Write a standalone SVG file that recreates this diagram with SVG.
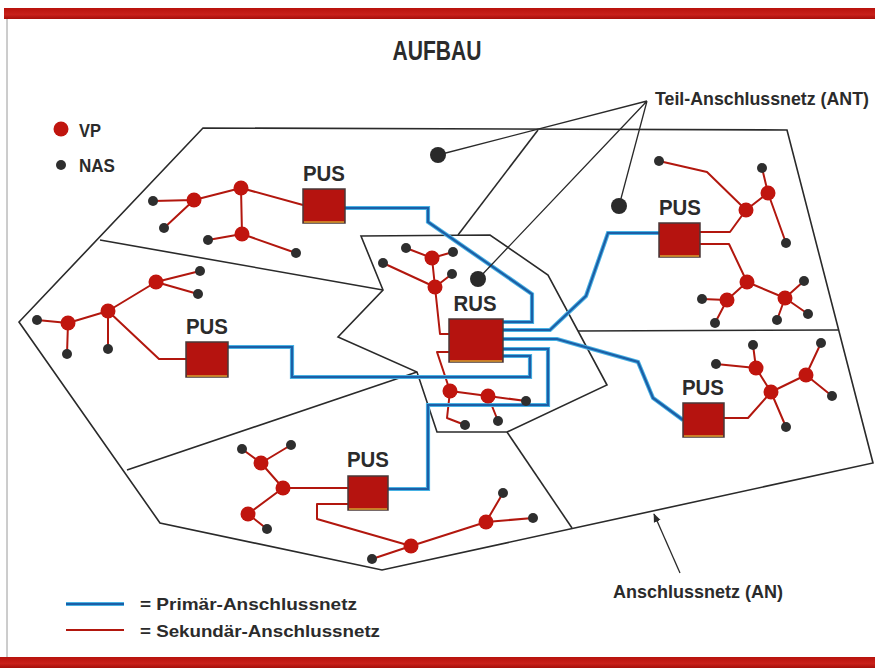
<svg xmlns="http://www.w3.org/2000/svg" width="875" height="668" viewBox="0 0 875 668">
<defs>
<linearGradient id="bar" x1="0" y1="0" x2="0" y2="1">
<stop offset="0" stop-color="#b8120c"/><stop offset="0.6" stop-color="#c8201a"/><stop offset="1" stop-color="#a50f0a"/>
</linearGradient>
<marker id="arr" viewBox="0 0 10 10" refX="9" refY="5" markerWidth="9" markerHeight="9" orient="auto" markerUnits="userSpaceOnUse">
<path d="M0,1 L10,5 L0,9 z" fill="#2a2a2a"/>
</marker>
</defs>
<style>
text{font-family:"Liberation Sans",Arial,sans-serif;font-weight:bold;fill:#2b2b2b}
.bd{fill:none;stroke:#2a2a2a;stroke-width:1.6;stroke-linejoin:miter}
.lead{fill:none;stroke:#2a2a2a;stroke-width:1.3}
.sec{fill:none;stroke:#b2170e;stroke-width:2;stroke-linejoin:round}
.priO{fill:none;stroke:#48b2e4;stroke-width:4.2;stroke-linejoin:miter}
.priI{fill:none;stroke:#1c5ea6;stroke-width:2.2;stroke-linejoin:miter}
.vp{fill:#c0150e}
.nas{fill:#2e2e2e}
.ant{fill:#2a2a2a}
.box{fill:#b5130f;stroke:#4a3838;stroke-width:1.5}
.edge{stroke:#d9a030;stroke-width:1.5}
.lbl{font-size:22px}
</style>
<rect width="875" height="668" fill="#ffffff"/>
<rect x="4" y="8" width="871" height="11" fill="url(#bar)"/>
<rect x="0" y="657" width="875" height="11" fill="url(#bar)"/>
<line x1="7" y1="19" x2="7" y2="657" stroke="#9a9a9a" stroke-width="1"/>
<text x="437" y="60" font-size="28" text-anchor="middle" textLength="89" lengthAdjust="spacingAndGlyphs">AUFBAU</text>

<g id="legend-top">
<circle cx="61" cy="129" r="7.5" class="vp"/>
<text x="79" y="137" font-size="18" textLength="22" lengthAdjust="spacingAndGlyphs">VP</text>
<circle cx="61" cy="165" r="5" class="nas"/>
<text x="79" y="172" font-size="18" textLength="36" lengthAdjust="spacingAndGlyphs">NAS</text>
</g>

<g id="boundaries">
<polygon class="bd" points="203,128 787,130 873,463 382,570 160,523 19,322"/>
<polygon class="bd" points="361,236 490,235 548,275 607,385 507,432 437,432 417,372 338,337 383,290"/>
<line class="bd" x1="100" y1="240" x2="383" y2="290"/>
<line class="bd" x1="127" y1="470" x2="417" y2="372"/>
<line class="bd" x1="538" y1="130" x2="458" y2="235"/>
<line class="bd" x1="578" y1="331" x2="838" y2="330"/>
<line class="bd" x1="507" y1="432" x2="572" y2="528"/>
</g>

<g id="connectors">
<g id="secondary">
<path class="sec" d="M153,201 L194,200 L241,188 L303,205 M164,228 L194,200 M241,188 L242,234 L208,240 M242,234 L296,253"/>
<path class="sec" d="M37,320 L68,323 L108,311 L156,282 L200,271 M156,282 L198,294 M68,323 L67,354 M108,311 L108,349 M108,311 L159,359 L186,359"/>
<path class="sec" d="M242,449 L261,463 L291,445 M261,463 L283,488 L348,488 M283,488 L248,514 L267,529 M348,504 L317,504 L317,519 L411,546 L486,522 L503,493 M372,559 L411,546 M486,522 L533,518"/>
<path class="sec" d="M659,161 L707,172 L746,210 L768,193 L762,168 M768,193 L786,243 M746,210 L730,232 L700,232 M700,244 L729,244 L747,282 L727,300 L702,299 M727,300 L715,323 M747,282 L785,298 L804,281 M785,298 L808,314 M785,298 L777,320"/>
<path class="sec" d="M724,418 L748,418 L771,392 L756,368 L716,364 M756,368 L753,345 M771,392 L806,375 L821,343 M806,375 L832,396 M771,392 L786,427"/>
<path class="sec" d="M406,248 L432,258 L453,252 M432,258 L435,287 L452,274 M435,287 L383,263 M435,287 L440,334 L449,334 M449,352 L437,352 L450,391 L488,396 L526,401 M488,396 L498,421 M450,391 L447,418 L465,425"/>
</g>
<g id="primary">
<path class="priO" d="M345,208 L428,208 L428,222 L532,294 L532,322 L503,322 M503,330 L550,330 L586,296 L608,233 L659,233 M503,339 L557,339 L638,362 L653,398 L683,420 M388,489 L428,489 L428,405 L548,405 L548,349 L503,349 M228,347 L292,347 L292,377 L530,377 L530,356 L503,356"/>
<path class="priI" d="M345,208 L428,208 L428,222 L532,294 L532,322 L503,322 M503,330 L550,330 L586,296 L608,233 L659,233 M503,339 L557,339 L638,362 L653,398 L683,420 M388,489 L428,489 L428,405 L548,405 L548,349 L503,349 M228,347 L292,347 L292,377 L530,377 L530,356 L503,356"/>
</g>
<g id="leaders">
<path class="lead" d="M647,101 L438,155 M647,101 L478,279 M647,101 L619,206"/>
<line class="lead" x1="680" y1="573" x2="654" y2="514" marker-end="url(#arr)"/>
</g>
</g>

<g id="ant-dots">
<circle cx="438" cy="155" r="8" class="ant"/>
<circle cx="478" cy="279" r="8" class="ant"/>
<circle cx="619" cy="206" r="8" class="ant"/>
</g>

<g id="vp-nodes">
<circle cx="194" cy="200" r="7.5" class="vp"/><circle cx="241" cy="188" r="7.5" class="vp"/><circle cx="242" cy="234" r="7.5" class="vp"/>
<circle cx="68" cy="323" r="7.5" class="vp"/><circle cx="108" cy="311" r="7.5" class="vp"/><circle cx="156" cy="282" r="7.5" class="vp"/>
<circle cx="261" cy="463" r="7.5" class="vp"/><circle cx="283" cy="488" r="7.5" class="vp"/><circle cx="248" cy="514" r="7.5" class="vp"/>
<circle cx="411" cy="546" r="7.5" class="vp"/><circle cx="486" cy="522" r="7.5" class="vp"/>
<circle cx="746" cy="210" r="7.5" class="vp"/><circle cx="768" cy="193" r="7.5" class="vp"/>
<circle cx="747" cy="282" r="7.5" class="vp"/><circle cx="727" cy="300" r="7.5" class="vp"/><circle cx="785" cy="298" r="7.5" class="vp"/>
<circle cx="771" cy="392" r="7.5" class="vp"/><circle cx="756" cy="368" r="7.5" class="vp"/><circle cx="806" cy="375" r="7.5" class="vp"/>
<circle cx="432" cy="258" r="7.5" class="vp"/><circle cx="435" cy="287" r="7.5" class="vp"/>
<circle cx="450" cy="391" r="7.5" class="vp"/><circle cx="488" cy="396" r="7.5" class="vp"/>
</g>

<g id="nas-nodes">
<circle cx="153" cy="201" r="5" class="nas"/><circle cx="164" cy="228" r="5" class="nas"/><circle cx="208" cy="240" r="5" class="nas"/><circle cx="296" cy="253" r="5" class="nas"/>
<circle cx="37" cy="320" r="5" class="nas"/><circle cx="67" cy="354" r="5" class="nas"/><circle cx="108" cy="349" r="5" class="nas"/><circle cx="200" cy="271" r="5" class="nas"/><circle cx="198" cy="294" r="5" class="nas"/>
<circle cx="242" cy="449" r="5" class="nas"/><circle cx="291" cy="445" r="5" class="nas"/><circle cx="267" cy="529" r="5" class="nas"/><circle cx="372" cy="559" r="5" class="nas"/><circle cx="503" cy="493" r="5" class="nas"/><circle cx="533" cy="518" r="5" class="nas"/>
<circle cx="659" cy="161" r="5" class="nas"/><circle cx="762" cy="168" r="5" class="nas"/><circle cx="786" cy="243" r="5" class="nas"/>
<circle cx="702" cy="299" r="5" class="nas"/><circle cx="715" cy="323" r="5" class="nas"/><circle cx="804" cy="281" r="5" class="nas"/><circle cx="808" cy="314" r="5" class="nas"/><circle cx="777" cy="320" r="5" class="nas"/>
<circle cx="716" cy="364" r="5" class="nas"/><circle cx="753" cy="345" r="5" class="nas"/><circle cx="821" cy="343" r="5" class="nas"/><circle cx="832" cy="396" r="5" class="nas"/><circle cx="786" cy="427" r="5" class="nas"/>
<circle cx="406" cy="248" r="5" class="nas"/><circle cx="453" cy="252" r="5" class="nas"/><circle cx="383" cy="263" r="5" class="nas"/><circle cx="452" cy="274" r="5" class="nas"/>
<circle cx="526" cy="401" r="5" class="nas"/><circle cx="498" cy="421" r="5" class="nas"/><circle cx="465" cy="425" r="5" class="nas"/>
</g>

<g id="pus1">
<rect class="box" x="303" y="189" width="42" height="34"/><line class="edge" x1="304" y1="222" x2="344" y2="222"/>
<text class="lbl" x="324" y="181" text-anchor="middle" textLength="42" lengthAdjust="spacingAndGlyphs">PUS</text>
</g>
<g id="pus2">
<rect class="box" x="186" y="342" width="42" height="35"/><line class="edge" x1="187" y1="376" x2="227" y2="376"/>
<text class="lbl" x="207" y="334" text-anchor="middle" textLength="42" lengthAdjust="spacingAndGlyphs">PUS</text>
</g>
<g id="pus3">
<rect class="box" x="348" y="476" width="40" height="34"/><line class="edge" x1="349" y1="509" x2="387" y2="509"/>
<text class="lbl" x="368" y="467" text-anchor="middle" textLength="42" lengthAdjust="spacingAndGlyphs">PUS</text>
</g>
<g id="pus4">
<rect class="box" x="659" y="223" width="41" height="34"/><line class="edge" x1="660" y1="256" x2="699" y2="256"/>
<text class="lbl" x="680" y="215" text-anchor="middle" textLength="42" lengthAdjust="spacingAndGlyphs">PUS</text>
</g>
<g id="pus5">
<rect class="box" x="683" y="403" width="41" height="34"/><line class="edge" x1="684" y1="436" x2="723" y2="436"/>
<text class="lbl" x="703" y="395" text-anchor="middle" textLength="42" lengthAdjust="spacingAndGlyphs">PUS</text>
</g>
<g id="rus">
<rect class="box" x="449" y="319" width="54" height="43"/><line class="edge" x1="450" y1="361" x2="502" y2="361"/>
<text class="lbl" x="475" y="311" text-anchor="middle" textLength="43" lengthAdjust="spacingAndGlyphs">RUS</text>
</g>

<g id="label-ant">
<text x="655" y="105" font-size="18" textLength="214" lengthAdjust="spacingAndGlyphs">Teil-Anschlussnetz (ANT)</text>
</g>
<g id="label-an">
<text x="613" y="598" font-size="18" textLength="170" lengthAdjust="spacingAndGlyphs">Anschlussnetz (AN)</text>
</g>

<g id="legend-bottom">
<line x1="66" y1="604" x2="124" y2="604" class="priO"/>
<line x1="66" y1="604" x2="124" y2="604" class="priI"/>
<text x="140" y="610" font-size="17" textLength="217" lengthAdjust="spacingAndGlyphs">= Primär-Anschlussnetz</text>
<line x1="66" y1="630" x2="124" y2="630" class="sec"/>
<text x="140" y="637" font-size="17" textLength="240" lengthAdjust="spacingAndGlyphs">= Sekundär-Anschlussnetz</text>
</g>
</svg>
